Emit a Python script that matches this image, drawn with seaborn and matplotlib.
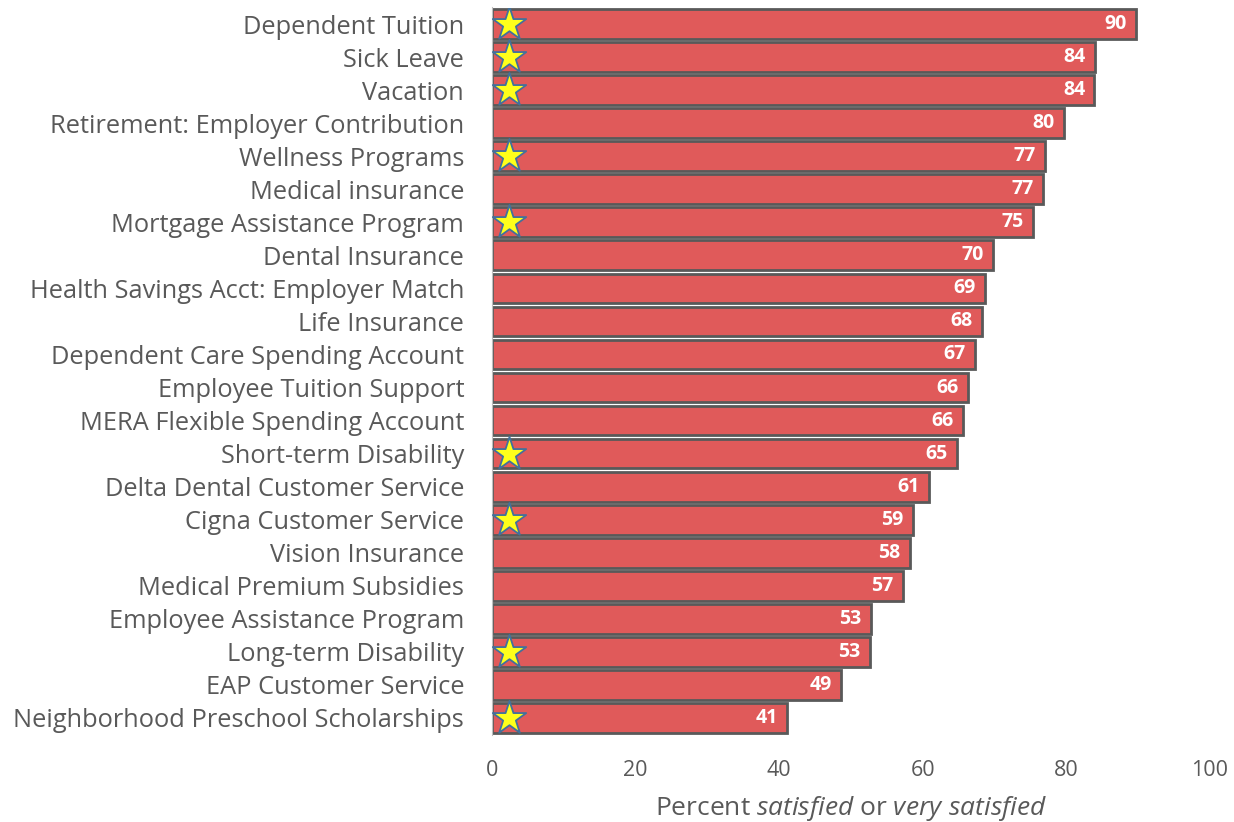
import pandas as pd
import matplotlib.pyplot as plt
import seaborn as sns

benefits = ["Dependent Tuition", "Sick Leave", "Vacation", "Retirement: Employer Contribution",
            "Wellness Programs", "Medical insurance", "Mortgage Assistance Program",
            "Dental Insurance", "Health Savings Acct: Employer Match", "Life Insurance",
            "Dependent Care Spending Account", "Employee Tuition Support",
            "MERA Flexible Spending Account", "Short-term Disability",
            "Delta Dental Customer Service", "Cigna Customer Service", "Vision Insurance",
            "Medical Premium Subsidies", "Employee Assistance Program", "Long-term Disability",
            "EAP Customer Service", "Neighborhood Preschool Scholarships"]
percent = [89.7, 84.0, 83.9, 79.7, 77.0, 76.7, 75.3, 69.8, 68.7, 68.2, 67.3, 66.3,
           65.6, 64.8, 60.9, 58.6, 58.2, 57.2, 52.8, 52.6, 48.6, 41.1]
starred = [True, True, True, False, True, False, True, False, False, False, False, False,
           False, True, False, True, False, False, False, True, False, True]

data = pd.DataFrame({"Benefit": benefits, "Percent": percent, "Star": starred})

sns.set_style("white")
plt.rcParams['font.family'] = ['Open Sans', 'DejaVu Sans']
plt.rcParams['mathtext.fontset'] = 'custom'
plt.rcParams['mathtext.rm'] = 'Open Sans'
plt.rcParams['mathtext.it'] = 'Open Sans:italic'

fig = plt.figure(figsize=(12.34, 8.22), dpi=100)
ax = fig.add_axes([492/1234, 1 - 734.5/822, 718/1234, 727/822])

sns.barplot(data=data, y="Benefit", x="Percent", orient="h", color="#E05A5A",
            saturation=1, edgecolor="#595959", linewidth=2, width=0.9, ax=ax)

for i, row in data.iterrows():
    ax.text(row["Percent"] - 1.3, i, f"{row['Percent']:.0f}", ha="right", va="center",
            color="white", fontsize=14, fontweight="bold")

stars = data[data["Star"]]
ax.scatter([2.3] * len(stars), stars.index, marker="*", s=640, color="#FFFF1A",
           edgecolor="#41719C", linewidth=1.3, zorder=5)

ax.set_xlim(0, 100)
ax.set_ylim(21.5, -0.5)
ax.set_xticks([0, 20, 40, 60, 80, 100])
ax.tick_params(axis="x", labelsize=15.5, colors="#595959", pad=18, length=0)
ax.tick_params(axis="y", labelsize=18.3, colors="#595959", pad=20, length=0)
ax.set_ylabel("")
ax.set_xlabel(r"Percent $\it{satisfied}$ or $\it{very\ satisfied}$", fontsize=19,
              color="#595959", labelpad=10)
for s in ["top", "right", "bottom"]:
    ax.spines[s].set_visible(False)
ax.spines["left"].set_color("#BFBFBF")

fig.savefig("out.png", dpi=100)
